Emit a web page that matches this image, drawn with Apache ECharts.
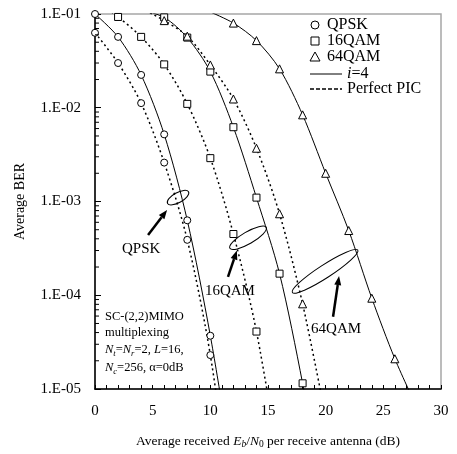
<!DOCTYPE html>
<html lang="en">
<head>
<meta charset="UTF-8">
<title>Average BER</title>
<script src="https://cdn.jsdelivr.net/npm/echarts@6/dist/echarts.min.js"></script>
<style>
  html, body { margin: 0; padding: 0; background: #fff; }
  #chart { width: 457px; height: 454px; }
</style>
</head>
<body>
<div id="chart"></div>
<script>
// data (Eb/N0 in dB, BER)
var qpskSnr      = [0, 2, 4, 6, 8, 10, 12];
var qpskIter4    = [0.1, 0.057, 0.0224, 0.0052, 6.3e-4, 3.7e-5, 1.2e-6];
var qpskPerfect  = [0.063, 0.030, 0.0112, 0.0026, 3.9e-4, 2.3e-5, 4e-7];

var qam16SnrIter = [4, 6, 8, 10, 12, 14, 16, 18, 20];
var qam16Iter4   = [0.11, 0.092, 0.056, 0.0243, 0.0062, 0.0011, 1.7e-4, 1.15e-5, 5e-7];
var qam16SnrPer  = [0, 2, 4, 6, 8, 10, 12, 14, 16];
var qam16Perfect = [0.14, 0.093, 0.057, 0.029, 0.011, 0.0029, 4.5e-4, 4.1e-5, 1.5e-6];

var qam64SnrIter = [10, 12, 14, 16, 18, 20, 22, 24, 26, 28];
var qam64Iter4   = [0.105, 0.08, 0.052, 0.026, 0.0084, 0.002, 4.9e-4, 9.3e-5, 2.1e-5, 6e-6];
var qam64SnrPer  = [4, 6, 8, 10, 12, 14, 16, 18, 20];
var qam64Perfect = [0.115, 0.085, 0.058, 0.0286, 0.0124, 0.0037, 7.4e-4, 8.1e-5, 5e-6];

var xTicks = [0, 5, 10, 15, 20, 25, 30];
var yTicks = [1e-5, 1e-4, 1e-3, 1e-2, 1e-1];

// ellipse / arrow / label annotations, anchored in data coordinates
var notes = [
  { label: 'QPSK',  ell: [7.2, 1.1e-3],  tail: [4.6, 4.4e-4],  tip: [6.25, 8.1e-4], text: [4.0, 3.1e-4],  rx: 12, ry: 5,   ang: 29 },
  { label: '16QAM', ell: [13.27, 4.1e-4], tail: [11.53, 1.57e-4], tip: [12.3, 3.0e-4], text: [11.7, 1.1e-4], rx: 21, ry: 6,   ang: 30 },
  { label: '64QAM', ell: [19.95, 1.8e-4], tail: [20.64, 5.9e-5], tip: [21.16, 1.6e-4], text: [20.9, 4.4e-5], rx: 39, ry: 6.5, ang: 33 }
];

var FONT = 'Liberation Serif';

function pairs(xs, ys) {
  return xs.map(function (x, i) { return [x, ys[i]]; });
}

// log-axis minor tick positions (2..9 within each decade)
var minorY = [];
for (var k = -5; k < -1; k++) {
  for (var m = 2; m <= 9; m++) minorY.push([0, m * Math.pow(10, k)]);
}

function curve(name, data, symbol, dotted) {
  return {
    name: name,
    type: 'line',
    data: data,
    smooth: 0.3,
    symbol: symbol,
    symbolSize: symbol === 'triangle' ? 8 : 7,
    showAllSymbol: true,
    itemStyle: { color: '#fff', borderColor: '#000', borderWidth: 1 },
    lineStyle: dotted
      ? { color: '#000', width: 1.5, type: [2, 3] }
      : { color: '#000', width: 1 },
    emphasis: { disabled: true },
    z: 3
  };
}

var chart = echarts.init(document.getElementById('chart'));

chart.setOption({
  animation: false,
  backgroundColor: '#fff',
  grid: {
    left: 95, top: 14, right: 16, bottom: 65,
    show: true, borderColor: '#a6a6a6', borderWidth: 1.5
  },
  xAxis: {
    type: 'value',
    min: 0, max: 30, interval: 5,
    axisLine: { lineStyle: { color: '#000', width: 1.5 } },
    axisTick: { inside: true, length: 4, lineStyle: { color: '#000' } },
    minorTick: { show: true, splitNumber: 5, length: 4, lineStyle: { color: '#000' } },
    splitLine: { show: false },
    axisLabel: { color: '#000', fontFamily: FONT, fontSize: 15, margin: 15 },
    name: 'Average received {i|E}{si|b}{n|/}{i|N}{s|0} per receive antenna (dB)',
    nameLocation: 'middle',
    nameGap: 44,
    nameTextStyle: {
      color: '#000', fontFamily: FONT, fontSize: 13.5,
      rich: {
        i:  { fontFamily: FONT, fontSize: 13.5, fontStyle: 'italic', color: '#000', lineHeight: 16 },
        n:  { fontFamily: FONT, fontSize: 13.5, color: '#000', lineHeight: 16 },
        si: { fontFamily: FONT, fontSize: 9.5, fontStyle: 'italic', color: '#000', lineHeight: 16, verticalAlign: 'bottom' },
        s:  { fontFamily: FONT, fontSize: 9.5, color: '#000', lineHeight: 16, verticalAlign: 'bottom' }
      }
    }
  },
  yAxis: {
    type: 'log',
    logBase: 10,
    min: yTicks[0], max: yTicks[yTicks.length - 1],
    axisLine: { lineStyle: { color: '#000', width: 1.5 } },
    axisTick: { inside: true, length: 6, lineStyle: { color: '#000' } },
    splitLine: { show: false },
    axisLabel: {
      color: '#000', fontFamily: FONT, fontSize: 15, margin: 14,
      formatter: function (v) {
        var e = Math.round(-Math.log10(v));
        return '1.E-' + (e < 10 ? '0' : '') + e;
      }
    },
    name: 'Average BER',
    nameLocation: 'middle',
    nameGap: 68,
    nameTextStyle: { color: '#000', fontFamily: FONT, fontSize: 14 }
  },
  series: [
    curve('QPSK i=4', pairs(qpskSnr, qpskIter4), 'circle', false),
    curve('QPSK Perfect PIC', pairs(qpskSnr, qpskPerfect), 'circle', true),
    curve('16QAM i=4', pairs(qam16SnrIter, qam16Iter4), 'rect', false),
    curve('16QAM Perfect PIC', pairs(qam16SnrPer, qam16Perfect), 'rect', true),
    curve('64QAM i=4', pairs(qam64SnrIter, qam64Iter4), 'triangle', false),
    curve('64QAM Perfect PIC', pairs(qam64SnrPer, qam64Perfect), 'triangle', true),
    {
      type: 'custom',
      data: minorY,
      clip: false,
      silent: true,
      renderItem: function (params, api) {
        var p = api.coord([api.value(0), api.value(1)]);
        return {
          type: 'line',
          shape: { x1: p[0], y1: p[1], x2: p[0] + 4, y2: p[1] },
          style: { stroke: '#000', lineWidth: 1 }
        };
      },
      z: 4
    }
  ]
});

// annotations + legend
var g = [];
var grid = function (pt) { return chart.convertToPixel({ gridIndex: 0 }, pt); };

notes.forEach(function (n) {
  var c = grid(n.ell), t0 = grid(n.tail), t1 = grid(n.tip), tx = grid(n.text);
  g.push({
    type: 'ellipse', x: c[0], y: c[1], rotation: n.ang * Math.PI / 180,
    shape: { cx: 0, cy: 0, rx: n.rx, ry: n.ry },
    style: { fill: null, stroke: '#000', lineWidth: 1 }, z: 10
  });
  var dx = t1[0] - t0[0], dy = t1[1] - t0[1], len = Math.sqrt(dx * dx + dy * dy);
  var ux = dx / len, uy = dy / len, hl = 9, hw = 3.5;
  var bx = t1[0] - ux * hl, by = t1[1] - uy * hl;
  g.push({
    type: 'line', shape: { x1: t0[0], y1: t0[1], x2: bx, y2: by },
    style: { stroke: '#000', lineWidth: 2.5 }, z: 10
  });
  g.push({
    type: 'polygon',
    shape: { points: [[t1[0], t1[1]], [bx - uy * hw, by + ux * hw], [bx + uy * hw, by - ux * hw]] },
    style: { fill: '#000' }, z: 10
  });
  g.push({
    type: 'text', x: tx[0], y: tx[1],
    style: { text: n.label, fill: '#000', font: '15px "' + FONT + '"', align: 'center', verticalAlign: 'middle' },
    z: 11
  });
});

// parameter box, bottom left
var rich = {
  r:  { fontFamily: FONT, fontSize: 12.5, color: '#000', lineHeight: 16 },
  i:  { fontFamily: FONT, fontSize: 12.5, fontStyle: 'italic', color: '#000', lineHeight: 16 },
  si: { fontFamily: FONT, fontSize: 8.5, fontStyle: 'italic', color: '#000', lineHeight: 16, verticalAlign: 'bottom' }
};
var boxLines = [
  '{r|SC-(2,2)MIMO}',
  '{r|multiplexing}',
  '{i|N}{si|t}{r|=}{i|N}{si|r}{r|=2, }{i|L}{r|=16,}',
  '{i|N}{si|c}{r|=256, α=0dB}'
];
var boxY = [317, 333, 350, 368];
boxLines.forEach(function (s, i) {
  g.push({ type: 'text', x: 105, y: boxY[i], style: { text: s, rich: rich, verticalAlign: 'middle' }, z: 11 });
});

// legend, top right
var lx = 315, ly = [25, 41, 57, 74, 89];
var lf = '16px "' + FONT + '"';
g.push({ type: 'circle', shape: { cx: lx, cy: ly[0], r: 4 }, style: { fill: '#fff', stroke: '#000' }, z: 12 });
g.push({ type: 'rect', shape: { x: lx - 4, y: ly[1] - 4, width: 8, height: 8 }, style: { fill: '#fff', stroke: '#000' }, z: 12 });
g.push({ type: 'polygon', shape: { points: [[lx, ly[2] - 5], [lx - 5, ly[2] + 4], [lx + 5, ly[2] + 4]] }, style: { fill: '#fff', stroke: '#000' }, z: 12 });
g.push({ type: 'line', shape: { x1: 310, y1: ly[3], x2: 342, y2: ly[3] }, style: { stroke: '#000', lineWidth: 1 }, z: 12 });
g.push({ type: 'line', shape: { x1: 310, y1: ly[4], x2: 342, y2: ly[4] }, style: { stroke: '#000', lineWidth: 1.5, lineDash: [4, 2] }, z: 12 });
['QPSK', '16QAM', '64QAM'].forEach(function (s, i) {
  g.push({ type: 'text', x: 327, y: ly[i], style: { text: s, font: lf, fill: '#000', verticalAlign: 'middle' }, z: 12 });
});
g.push({ type: 'text', x: 347, y: ly[3], style: {
  text: '{i|i}{r|=4}', verticalAlign: 'middle',
  rich: { i: { fontFamily: FONT, fontSize: 16, fontStyle: 'italic', color: '#000' }, r: { fontFamily: FONT, fontSize: 16, color: '#000' } }
}, z: 12 });
g.push({ type: 'text', x: 347, y: ly[4], style: { text: 'Perfect PIC', font: lf, fill: '#000', verticalAlign: 'middle' }, z: 12 });

chart.setOption({ graphic: g });
</script>
</body>
</html>
